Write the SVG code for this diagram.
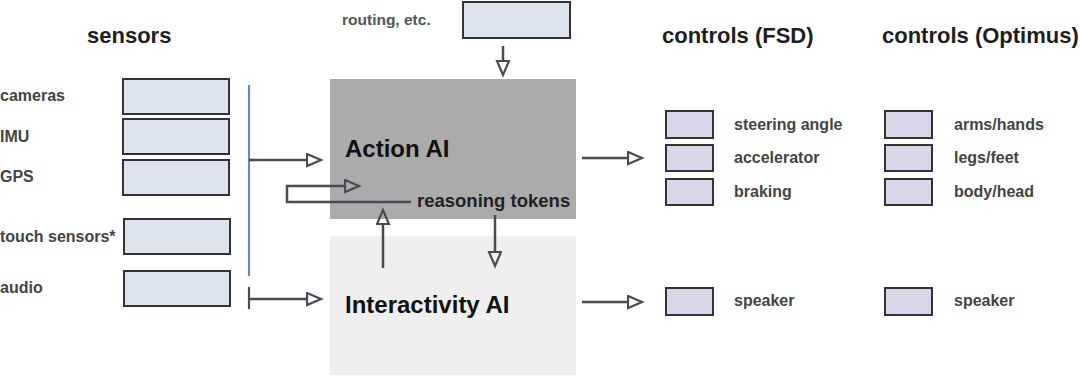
<svg xmlns="http://www.w3.org/2000/svg" width="1080" height="378" viewBox="0 0 1080 378">
<style>
text{font-family:"Liberation Sans",Arial,sans-serif;font-weight:bold}
.title{font-size:22px;fill:#1e1e1e}
.lbl{font-size:16px;fill:#444}
.big{font-size:24px;fill:#111}
.sbox{fill:#dde3ef;stroke:#333;stroke-width:2}
.cbox{fill:#d8d6e8;stroke:#333;stroke-width:2}
.ar{fill:none;stroke:#4a4a55;stroke-width:2.5;marker-end:url(#tri)}
.bus{fill:none;stroke:#6a8aa5;stroke-width:2.2}
</style>
<defs>
<marker id="tri" markerUnits="userSpaceOnUse" markerWidth="20" markerHeight="16" refX="1" refY="7" orient="auto" viewBox="0 0 20 16">
<path d="M1,1 L15,7 L1,13 Z" fill="none" stroke="#4a4a55" stroke-width="2.2" stroke-linejoin="miter"/>
</marker>
</defs>
<rect width="1080" height="378" fill="#fff"/>

<text class="title" x="87" y="43">sensors</text>
<text class="title" x="662" y="43">controls (FSD)</text>
<text class="title" x="882" y="43">controls (Optimus)</text>

<g id="action-ai"><rect x="330" y="79" width="246" height="140" fill="#ababab"/><text class="big" x="345" y="157">Action AI</text></g>
<g id="interactivity-ai"><rect x="330" y="236" width="246" height="139" fill="#efefef"/><text class="big" x="345" y="313">Interactivity AI</text></g>

<g id="routing"><text class="lbl" x="342" y="25" style="font-size:15.5px;fill:#555">routing, etc.</text><rect class="sbox" x="463" y="2" width="107" height="36"/></g>

<g id="cameras"><text class="lbl" x="0" y="101">cameras</text><rect class="sbox" x="123" y="79" width="106" height="35"/></g>
<g id="imu"><text class="lbl" x="0" y="142">IMU</text><rect class="sbox" x="123" y="119" width="106" height="35"/></g>
<g id="gps"><text class="lbl" x="0" y="182">GPS</text><rect class="sbox" x="123" y="160" width="106" height="35"/></g>
<g id="touch"><text class="lbl" x="0" y="242">touch sensors*</text><rect class="sbox" x="124" y="219" width="106" height="35"/></g>
<g id="audio"><text class="lbl" x="0" y="293">audio</text><rect class="sbox" x="124" y="271" width="106" height="35"/></g>

<g id="steering"><rect class="cbox" x="666" y="111" width="47" height="27"/><text class="lbl" x="734" y="130">steering angle</text></g>
<g id="accelerator"><rect class="cbox" x="666" y="145" width="47" height="26"/><text class="lbl" x="734" y="163">accelerator</text></g>
<g id="braking"><rect class="cbox" x="666" y="179" width="47" height="26"/><text class="lbl" x="734" y="197">braking</text></g>
<g id="speaker-fsd"><rect class="cbox" x="666" y="288" width="47" height="27"/><text class="lbl" x="734" y="306">speaker</text></g>

<g id="arms"><rect class="cbox" x="885" y="111" width="47" height="27"/><text class="lbl" x="954" y="130">arms/hands</text></g>
<g id="legs"><rect class="cbox" x="885" y="145" width="47" height="26"/><text class="lbl" x="954" y="163">legs/feet</text></g>
<g id="body"><rect class="cbox" x="885" y="179" width="47" height="26"/><text class="lbl" x="954" y="197">body/head</text></g>
<g id="speaker-opt"><rect class="cbox" x="885" y="288" width="47" height="27"/><text class="lbl" x="954" y="306">speaker</text></g>

<g id="reasoning"><text class="lbl" x="417" y="207" style="font-size:18.5px;fill:#222">reasoning tokens</text></g>

<g id="connectors">
<line class="bus" x1="249" y1="85" x2="249" y2="276"/>
<line class="bus" x1="249" y1="287" x2="249" y2="309" style="stroke:#4a4a55"/>
<line class="ar" x1="249" y1="160" x2="307" y2="160"/>
<line class="ar" x1="249" y1="299" x2="307" y2="299"/>
<polyline class="ar" points="411,202 287,202 287,186 345,186"/>
<line class="ar" x1="503" y1="46" x2="503" y2="61"/>
<line class="ar" x1="383" y1="268" x2="383" y2="224"/>
<line class="ar" x1="495" y1="215" x2="495" y2="252"/>
<line class="ar" x1="582" y1="158" x2="628" y2="158"/>
<line class="ar" x1="582" y1="302" x2="628" y2="302"/>
</g>
</svg>
